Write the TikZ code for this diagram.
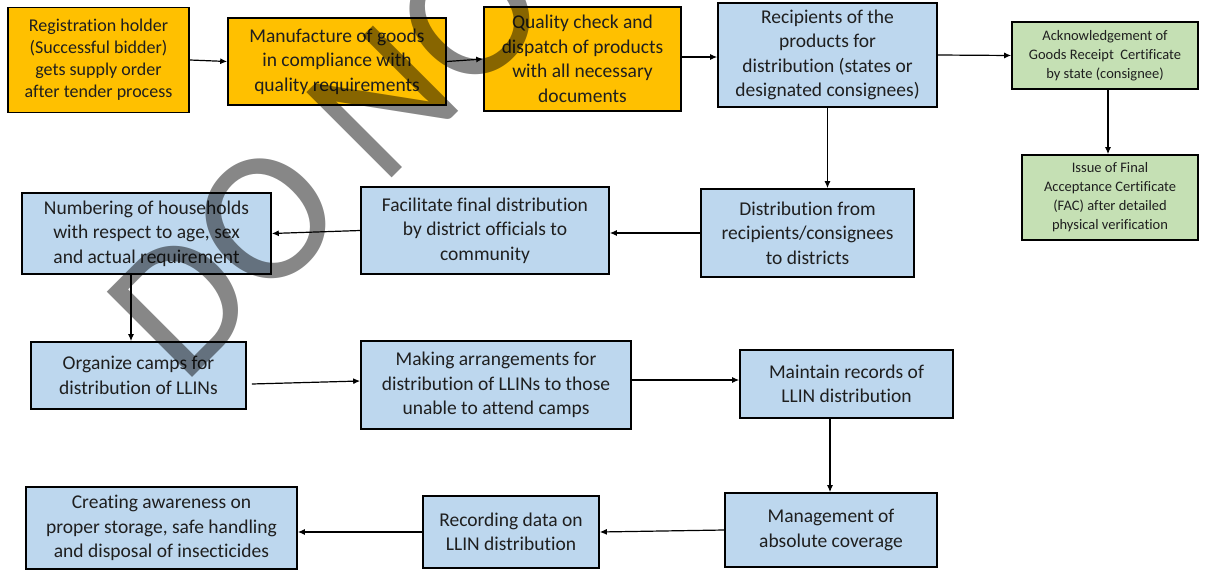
\documentclass[tikz,border=0pt]{standalone}
\usepackage{fontspec}
\setmainfont{Carlito}[Ligatures=NoCommon]
\usepackage{tikz}
\usetikzlibrary{arrows.meta}
\definecolor{boxorange}{HTML}{FFC000}
\definecolor{boxblue}{HTML}{BDD7EE}
\definecolor{boxgreen}{HTML}{C5E0B4}
\definecolor{inktext}{HTML}{1F1F1F}

\begin{document}
\begin{tikzpicture}[x=1pt,y=-1pt,
    stage/.style={draw=black,line width=1.6pt,inner sep=0pt,align=center,
      text=inktext,font=\fontsize{19.5}{24.5}\selectfont},
    supply/.style={stage,fill=boxorange},
    field/.style={stage,fill=boxblue},
    cert/.style={stage,fill=boxgreen,font=\fontsize{14.5}{19}\selectfont},
    flow/.style={line width=1.2pt,-{Latex[length=7pt,width=6pt]}}]
    \useasboundingbox[fill=white] (0,0) rectangle (1205,570);
    % supply chain, top row
    \node[supply,minimum width=181pt,minimum height=105pt,
      font=\fontsize{18}{22}\selectfont] (reg) at (98.5,60)
      {Registration holder\\(Successful bidder)\\gets supply order\\after tender process};
    \node[supply,minimum width=218pt,minimum height=87pt] (man) at (337,61.5)
      {Manufacture of goods\\in compliance with\\quality requirements};
    \node[supply,minimum width=197pt,minimum height=104pt] (qua) at (582.5,59)
      {Quality check and\\dispatch of products\\with all necessary\\documents};
    \node[field,minimum width=219pt,minimum height=104pt] (rec) at (827.5,55)
      {Recipients of the\\products for\\distribution (states or\\designated consignees)};
    \node[cert,minimum width=186pt,minimum height=67pt] (ack) at (1105,55.5)
      {Acknowledgement of\\Goods Receipt~ Certificate\\by state (consignee)};
    \node[cert,minimum width=176pt,minimum height=85pt] (fac) at (1110,197.5)
      {Issue of Final\\Acceptance Certificate\\(FAC) after detailed\\physical verification};
    % distribution
    \node[field,minimum width=213pt,minimum height=88pt] (dis) at (807.5,233)
      {Distribution from\\recipients/consignees\\to districts};
    \node[field,minimum width=248pt,minimum height=87pt] (fin) at (485,230.5)
      {Facilitate final distribution\\by district officials to\\community};
    \node[field,minimum width=249pt,minimum height=81pt] (num) at (146.5,233.5)
      {Numbering of households\\with respect to age, sex\\and actual requirement};
    \node[field,minimum width=215pt,minimum height=67pt] (org) at (138.5,375.5)
      {Organize camps for\\distribution of LLINs};
    \node[field,minimum width=270pt,minimum height=88pt] (mak) at (496,385)
      {Making arrangements for\\distribution of LLINs to those\\unable to attend camps};
    \node[field,minimum width=213pt,minimum height=68pt] (mai) at (846.5,384)
      {Maintain records of\\LLIN distribution};
    \node[field,minimum width=212pt,minimum height=74pt] (mgt) at (831,530)
      {Management of\\absolute coverage};
    \node[field,minimum width=176pt,minimum height=72pt] (rcd) at (511,532)
      {Recording data on\\LLIN distribution};
    \node[field,minimum width=271pt,minimum height=82pt] (cre) at (161.5,528)
      {Creating awareness on\\proper storage, safe handling\\and disposal of insecticides};
    % connectors
    \draw[flow] (reg.east) -- (man.west);
    \draw[flow] (man.east) -- (qua.west);
    \draw[flow] ([yshift=2]qua.east) -- ([yshift=2]qua.east -| rec.west);
    \draw[flow] (rec.east) -- (ack.west);
    \draw[flow] ([xshift=3]ack.south) -- ([xshift=3]ack.south |- fac.north);
    \draw[flow] (rec.south) -- (rec.south |- dis.north);
    \draw[flow] (dis.west) -- (dis.west -| fin.east);
    \draw[flow] (fin.west) -- (num.east);
    \draw[flow] ([xshift=-15.5]num.south) -- ([xshift=-15.5]num.south |- org.north);
    \draw[flow] ([xshift=5,yshift=-8.5]org.east) -- ([yshift=4]mak.west);
    \draw[flow] ([yshift=5]mak.east) -- ([yshift=5]mak.east -| mai.west);
    \draw[flow] ([xshift=-16.5]mai.south) -- ([xshift=-16.5]mai.south |- mgt.north);
    \draw[flow] (mgt.west) -- (rcd.east);
    \draw[flow] (rcd.west) -- (rcd.west -| cre.east);
    % watermark
    \begin{scope}
      \clip (0,0) rectangle (1205,570);
      \node[rotate=45,anchor=base west,inner sep=0pt,text=black,text opacity=0.47,
        font=\fontsize{188}{188}\selectfont] (mark) at (183,387) {DO NOT};
    \end{scope}
\end{tikzpicture}
\end{document}
